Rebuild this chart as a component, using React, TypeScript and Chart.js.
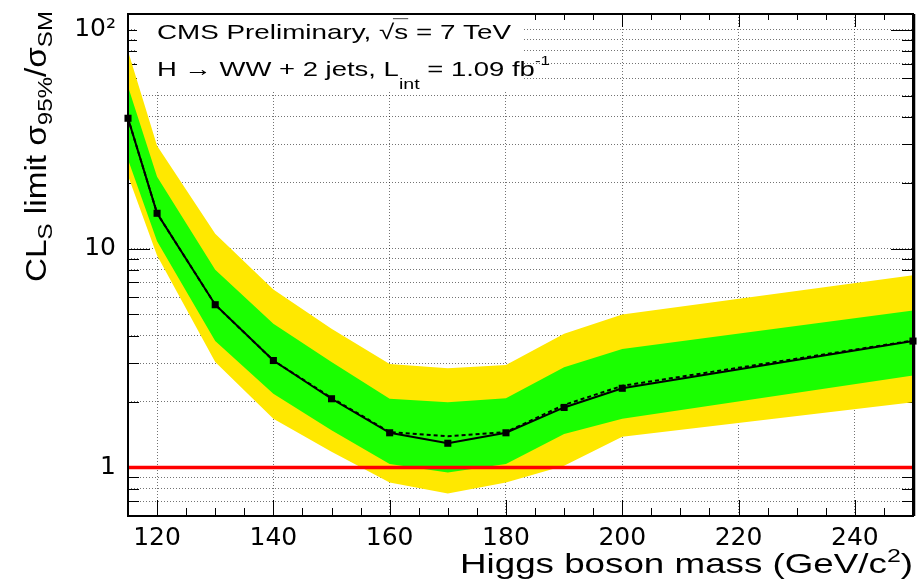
import React, { useEffect, useRef } from 'react';
import { Chart, registerables } from 'chart.js';

Chart.register(...registerables);

// ---------------- data ----------------
const masses = [115, 120, 130, 140, 150, 160, 170, 180, 190, 200, 250];
const observed = [39.4, 14.5, 5.54, 3.08, 2.06, 1.44, 1.29, 1.44, 1.88, 2.3, 3.78];
const expected = [39.4, 14.5, 5.54, 3.08, 2.08, 1.45, 1.39, 1.45, 1.93, 2.36, 3.8];
const oneSigmaUp = [55, 21.3, 8.0, 4.54, 3.03, 2.06, 1.985, 2.07, 2.87, 3.48, 5.22];
const oneSigmaDown = [25.5, 10.8, 3.78, 2.17, 1.48, 1.036, 0.949, 1.036, 1.42, 1.67, 2.63];
const twoSigmaUp = [80, 29.5, 11.7, 6.5, 4.3, 2.97, 2.84, 2.94, 4.08, 5.0, 7.55];
const twoSigmaDown = [21.5, 9.3, 3.03, 1.67, 1.18, 0.854, 0.76, 0.854, 1.018, 1.38, 1.985];
const smLine = [1, 1];
const smMasses = [115, 250];

const xMajorTicks = [120, 140, 160, 180, 200, 220, 240];
const xMinorStep = 5;
const yTicks = [0.7, 0.8, 0.9, 1, 2, 3, 4, 5, 6, 7, 8, 9, 10, 20, 30, 40, 50, 60, 70, 80, 90, 100];
const yMajor = [1, 10, 100];
const yLabels: Record<string, string> = { '1': '1', '10': '10', '100': '10²' };

const X_MIN = 115;
const X_MAX = 250;
const Y_MIN = 0.6;
const Y_MAX = 118;

const YELLOW = '#ffe800';
const GREEN = '#1aff00';
const FONT_TEXT = '"Liberation Sans", Arial, Helvetica, sans-serif';
const FONT_TICK = '"DejaVu Sans", "Liberation Sans", sans-serif';

type Run = { text: string; size: number; dy?: number; overline?: boolean };

function measureRuns(ctx: CanvasRenderingContext2D, runs: Run[]) {
  let w = 0;
  for (const r of runs) {
    ctx.font = `${r.size}px ${FONT_TEXT}`;
    w += ctx.measureText(r.text).width;
  }
  return w;
}

function drawRuns(ctx: CanvasRenderingContext2D, x: number, y: number, runs: Run[]) {
  let cx = x;
  for (const r of runs) {
    ctx.font = `${r.size}px ${FONT_TEXT}`;
    const w = ctx.measureText(r.text).width;
    ctx.fillText(r.text, cx, y + (r.dy || 0));
    if (r.overline) {
      ctx.save();
      ctx.fillStyle = '#666';
      ctx.fillRect(cx - 1, y + (r.dy || 0) - r.size * 1.0, w + 1, 1.2);
      ctx.restore();
    }
    cx += w;
  }
}

function drawScaledRuns(
  ctx: CanvasRenderingContext2D,
  x: number,
  y: number,
  runs: Run[],
  targetW: number,
  align: 'left' | 'right'
) {
  const w = measureRuns(ctx, runs);
  const sx = targetW / w;
  ctx.save();
  ctx.translate(align === 'left' ? x : x - targetW, y);
  ctx.scale(sx, 1);
  drawRuns(ctx, 0, 0, runs);
  ctx.restore();
}

const line1: Run[] = [
  { text: 'CMS Preliminary, ', size: 21 },
  { text: '√', size: 21 },
  { text: 's', size: 21, overline: true },
  { text: ' = 7 TeV', size: 21 },
];
const line2: Run[] = [
  { text: 'H → WW + 2 jets, L', size: 21 },
  { text: 'int', size: 15, dy: 13 },
  { text: ' = 1.09 fb', size: 21 },
  { text: '-1', size: 13, dy: -11 },
];
const xTitle: Run[] = [
  { text: 'Higgs boson mass (GeV/c', size: 28 },
  { text: '2', size: 19, dy: -11 },
  { text: ')', size: 28 },
];
const yTitle: Run[] = [
  { text: 'CL', size: 29 },
  { text: 'S', size: 21, dy: 6 },
  { text: ' limit σ', size: 29 },
  { text: '95%', size: 21, dy: 6 },
  { text: '/σ', size: 29 },
  { text: 'SM', size: 21, dy: 6 },
];

const decorPlugin = {
  id: 'rootDecor',
  beforeDatasetsDraw(chart: any) {
    const { ctx, chartArea: a, scales } = chart;
    const xs = scales.x;
    const ys = scales.y;
    ctx.save();
    ctx.strokeStyle = '#000';
    ctx.lineWidth = 1;
    ctx.beginPath();
    for (let v = X_MIN; v <= X_MAX; v += xMinorStep) {
      const px = Math.round(xs.getPixelForValue(v)) + 0.5;
      const major = xMajorTicks.includes(v);
      ctx.moveTo(px, a.bottom);
      ctx.lineTo(px, a.bottom - (major ? 16 : 8));
      ctx.moveTo(px, a.top);
      ctx.lineTo(px, a.top + (major ? 13 : 6));
    }
    for (const v of yTicks) {
      const py = Math.round(ys.getPixelForValue(v)) + 0.5;
      const major = yMajor.includes(v);
      ctx.moveTo(a.left, py);
      ctx.lineTo(a.left + (major ? 22 : 11), py);
      ctx.moveTo(a.right, py);
      ctx.lineTo(a.right - (major ? 22 : 11), py);
    }
    ctx.stroke();
    // white text pave
    ctx.fillStyle = '#fff';
    ctx.fillRect(137, a.top + 1, 522 - 137, 91 - a.top - 1);
    ctx.restore();
  },
  afterDatasetsDraw(chart: any) {
    const { ctx, chartArea: a } = chart;
    ctx.save();
    ctx.strokeStyle = '#000';
    ctx.lineWidth = 2;
    ctx.strokeRect(a.left, a.top, a.right - a.left, a.bottom - a.top);
    ctx.beginPath();
    ctx.lineWidth = 1.5;
    ctx.moveTo(a.right + 1.5, a.top);
    ctx.lineTo(a.right + 1.5, a.bottom);
    ctx.stroke();
    ctx.restore();
  },
  afterDraw(chart: any) {
    const { ctx } = chart;
    ctx.save();
    ctx.fillStyle = '#000';
    ctx.textBaseline = 'alphabetic';
    ctx.textAlign = 'left';
    drawScaledRuns(ctx, 157, 39, line1, 354, 'left');
    drawScaledRuns(ctx, 157, 76, line2, 393, 'left');
    drawScaledRuns(ctx, 913, 573, xTitle, 453, 'right');
    // rotated y title
    ctx.save();
    ctx.translate(46, 282);
    ctx.rotate(-Math.PI / 2);
    const w = measureRuns(ctx, yTitle);
    ctx.scale(271 / w, 1);
    drawRuns(ctx, 0, 0, yTitle);
    ctx.restore();
    ctx.restore();
  },
};

export default function App() {
  const ref = useRef<HTMLCanvasElement>(null);
  useEffect(() => {
    const canvas = ref.current;
    if (!canvas) return;
    const pts = (xsArr: number[], arr: number[]) => xsArr.map((m, i) => ({ x: m, y: arr[i] }));
    const band = (arr: number[], color: string, fill: any, order: number) => ({
      data: pts(masses, arr),
      borderWidth: 0,
      borderColor: 'rgba(0,0,0,0)',
      backgroundColor: color,
      pointRadius: 0,
      fill,
      order,
    });
    const chart = new Chart(canvas, {
      type: 'line',
      data: {
        datasets: [
          band(twoSigmaUp, YELLOW, 1, 5) as any,
          band(twoSigmaDown, YELLOW, false, 5) as any,
          band(oneSigmaUp, GREEN, 3, 4) as any,
          band(oneSigmaDown, GREEN, false, 4) as any,
          {
            data: pts(masses, expected),
            borderColor: '#000',
            borderWidth: 2,
            borderDash: [4, 3],
            pointRadius: 0,
            fill: false,
            order: 2,
          },
          {
            data: pts(masses, observed),
            borderColor: '#000',
            borderWidth: 2,
            pointStyle: 'rect',
            pointRadius: 5,
            pointBackgroundColor: '#000',
            pointBorderColor: '#000',
            pointBorderWidth: 0,
            fill: false,
            clip: 8,
            order: 1,
          },
          {
            data: pts(smMasses, smLine),
            borderColor: '#ff0000',
            borderWidth: 3.5,
            pointRadius: 0,
            fill: false,
            order: 0,
          },
        ],
      },
      options: {
        responsive: false,
        animation: false,
        devicePixelRatio: 1,
        events: [],
        layout: { padding: { top: 14, right: 3, left: 0, bottom: 0 } },
        elements: { line: { tension: 0 } },
        plugins: {
          legend: { display: false },
          tooltip: { enabled: false },
          title: { display: false },
        },
        scales: {
          x: {
            type: 'linear',
            min: X_MIN,
            max: X_MAX,
            afterBuildTicks: (s: any) => {
              s.ticks = xMajorTicks.map((v) => ({ value: v }));
            },
            afterFit: (s: any) => {
              s.height = 71;
              s.paddingLeft = 0;
              s.paddingRight = 0;
            },
            grid: { color: 'rgba(0,0,0,0.55)', lineWidth: 1, drawTicks: false },
            border: { display: false, dash: [1, 2] },
            ticks: {
              font: { family: FONT_TICK, size: 25 },
              color: '#000',
              padding: 7,
              autoSkip: false,
              maxRotation: 0,
              callback: (v: any) => String(v),
            },
            title: { display: false },
          },
          y: {
            type: 'logarithmic',
            min: Y_MIN,
            max: Y_MAX,
            afterBuildTicks: (s: any) => {
              s.ticks = yTicks.map((v) => ({ value: v }));
            },
            afterFit: (s: any) => {
              s.width = 128;
              s.paddingTop = 0;
              s.paddingBottom = 0;
            },
            grid: { color: 'rgba(0,0,0,0.55)', lineWidth: 1, drawTicks: false },
            border: { display: false, dash: [1, 2] },
            ticks: {
              font: { family: FONT_TICK, size: 25 },
              color: '#000',
              padding: 12,
              autoSkip: false,
              callback: (v: any) => yLabels[String(v)] ?? '',
            },
            title: { display: false },
          },
        },
      } as any,
      plugins: [decorPlugin as any],
    });
    return () => chart.destroy();
  }, []);

  return (
    <div style={{ position: 'absolute', left: 0, top: 0, width: 918, height: 587, background: '#fff' }}>
      <canvas ref={ref} width={918} height={587} style={{ display: 'block', width: 918, height: 587 }} />
    </div>
  );
}
